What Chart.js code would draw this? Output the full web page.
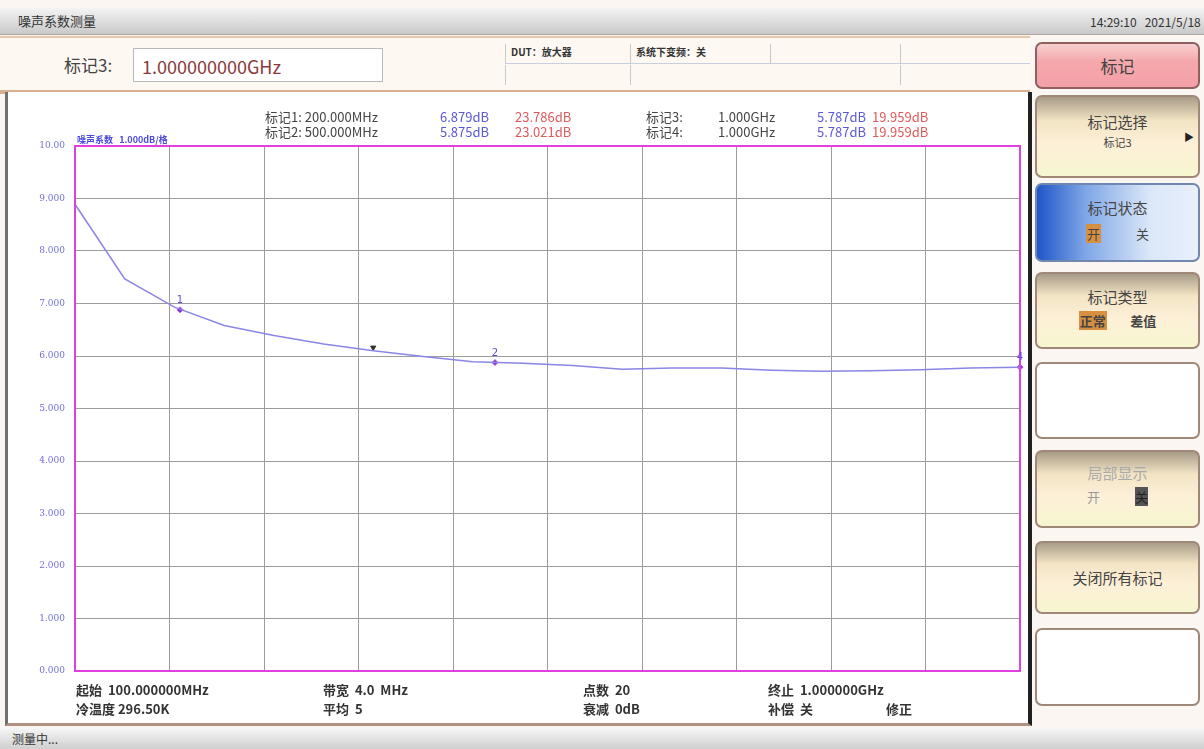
<!DOCTYPE html>
<html>
<head>
<meta charset="utf-8">
<script src="https://cdn.jsdelivr.net/npm/chart.js@4"></script>
<style>
body { margin: 0; width: 1204px; height: 749px; position: relative; overflow: hidden; background: #fbf6f2; font-family: "Noto Sans CJK SC", "Noto Sans", sans-serif; color: #333; }
.abs { position: absolute; white-space: nowrap; }
#titlebar { left: 0; top: 8px; width: 1204px; height: 26px; background: linear-gradient(#f4f4f4, #c9c9c9); border-bottom: 1px solid #b0a8a0; }
#header { left: 0; top: 36px; width: 1030px; height: 52px; background: #fdf8f2; border-top: 2px solid #e8c8a8; border-bottom: 4px solid #d8b090; }
#mkbox { left: 133px; top: 10px; width: 250px; height: 34px; border: 1px solid #b8b8b8; background: #fff; font-size: 18px; color: #8a3a3a; line-height: 34px; padding-left: 8px; box-sizing: border-box; }
.cell { position: absolute; border-left: 1px solid #c8c8c8; font-size: 10px; font-weight: bold; color: #333; padding-left: 5px; box-sizing: border-box; }
#panel { left: 5px; top: 92px; width: 1027px; height: 634px; background: #fff; border-left: 3px solid #707070; border-right: 4px solid #202020; border-bottom: 3px solid #b09080; box-sizing: border-box; }
#chartwrap { left: 8px; top: 92px; width: 1020px; height: 631px; }
.mk { font-size: 13px; color: #444; }
.blue { color: #5a5ad8; }
.red { color: #e05a5a; }
.info { font-size: 13px; font-weight: bold; color: #333; }
.btn { position: absolute; left: 1035px; width: 165px; border: 2px solid #a08878; border-radius: 7px; box-sizing: border-box; text-align: center; font-size: 15px; color: #444; }
.cream { background: linear-gradient(#a89c88 0%, #f2e4c4 30%, #fdf0d8 60%, #f6f6d0 100%); }
.hl { background: #d89040; padding: 0 1px; }
#status { left: 0; top: 728px; width: 1204px; height: 21px; background: linear-gradient(#f6f6f6, #cfcfcf); font-size: 12px; line-height: 21px; padding-left: 12px; box-sizing: border-box; }
</style>
</head>
<body>
<div class="abs" id="titlebar">
  <span class="abs" style="left:18px;top:3px;font-size:13px;">噪声系数测量</span>
  <span class="abs" style="left:1090px;top:5px;font-size:12px;">14:29:10&nbsp;&nbsp;&nbsp;2021/5/18</span>
</div>
<div class="abs" id="header">
  <span class="abs" style="left:64px;top:14px;font-size:17px;color:#444;">标记3:</span>
  <div class="abs" id="mkbox">1.000000000GHz</div>
  <div class="cell" style="left:505px;top:6px;width:125px;height:20px;border-bottom:1px solid #c8d0e0;">DUT：放大器</div>
  <div class="cell" style="left:630px;top:6px;width:140px;height:20px;border-bottom:1px solid #c8d0e0;">系统下变频：关</div>
  <div class="cell" style="left:770px;top:6px;width:130px;height:20px;border-bottom:1px solid #c8d0e0;"></div>
  <div class="cell" style="left:900px;top:6px;width:130px;height:20px;border-bottom:1px solid #c8d0e0;"></div>
  <div class="cell" style="left:505px;top:27px;width:125px;height:20px;"></div>
  <div class="cell" style="left:630px;top:27px;width:270px;height:20px;"></div>
  <div class="cell" style="left:900px;top:27px;width:130px;height:20px;"></div>
</div>
<div class="abs" id="panel"></div>
<div class="abs" id="chartwrap"><canvas id="myChart"></canvas></div>

<span class="abs mk" style="left:265px;top:107px;">标记1: 200.000MHz</span>
<span class="abs mk blue" style="left:440px;top:107px;">6.879dB</span>
<span class="abs mk red" style="left:515px;top:107px;">23.786dB</span>
<span class="abs mk" style="left:265px;top:122px;">标记2: 500.000MHz</span>
<span class="abs mk blue" style="left:440px;top:122px;">5.875dB</span>
<span class="abs mk red" style="left:515px;top:122px;">23.021dB</span>
<span class="abs mk" style="left:646px;top:107px;">标记3:</span>
<span class="abs mk" style="left:718px;top:107px;">1.000GHz</span>
<span class="abs mk blue" style="left:817px;top:107px;">5.787dB</span>
<span class="abs mk red" style="left:872px;top:107px;">19.959dB</span>
<span class="abs mk" style="left:646px;top:122px;">标记4:</span>
<span class="abs mk" style="left:718px;top:122px;">1.000GHz</span>
<span class="abs mk blue" style="left:817px;top:122px;">5.787dB</span>
<span class="abs mk red" style="left:872px;top:122px;">19.959dB</span>
<span class="abs" style="left:77px;top:133px;font-size:9px;font-weight:bold;color:#4a4ae0;">噪声系数&nbsp;&nbsp;&nbsp;1.000dB/格</span>

<span class="abs info" style="left:76px;top:680px;">起始&nbsp;&nbsp;100.000000MHz</span>
<span class="abs info" style="left:76px;top:699px;">冷温度 296.50K</span>
<span class="abs info" style="left:323px;top:680px;">带宽&nbsp;&nbsp;4.0&nbsp;&nbsp;MHz</span>
<span class="abs info" style="left:323px;top:699px;">平均&nbsp;&nbsp;5</span>
<span class="abs info" style="left:583px;top:680px;">点数&nbsp;&nbsp;20</span>
<span class="abs info" style="left:583px;top:699px;">衰减&nbsp;&nbsp;0dB</span>
<span class="abs info" style="left:768px;top:680px;">终止&nbsp;&nbsp;1.000000GHz</span>
<span class="abs info" style="left:768px;top:699px;">补偿&nbsp;&nbsp;关</span>
<span class="abs info" style="left:886px;top:699px;">修正</span>

<div class="btn" style="top:42px;height:47px;line-height:43px;font-size:17px;background:linear-gradient(#f8d0d0,#f5a8ac 40%,#f4a0a8);border-color:#906060;">标记</div>
<div class="btn cream" style="top:95px;height:83px;padding-top:14px;">标记选择<div style="font-size:11px;margin-top:2px;">标记3</div><span class="abs" style="right:4px;top:32px;font-size:10px;color:#222;">▶</span></div>
<div class="btn" style="top:183px;height:79px;padding-top:12px;background:linear-gradient(90deg,#1f55c8 0%,#7fa6e6 30%,#dbe7f8 70%,#e8f0fb 100%);border-color:#7088b0;">标记状态<div style="font-size:13px;margin-top:6px;"><span class="hl">开</span>&nbsp;&nbsp;&nbsp;&nbsp;&nbsp;&nbsp;&nbsp;&nbsp;&nbsp;&nbsp;&nbsp;&nbsp;关</div></div>
<div class="btn cream" style="top:272px;height:77px;padding-top:12px;">标记类型<div style="font-size:13px;margin-top:4px;font-weight:bold;"><span class="hl">正常</span>&nbsp;&nbsp;&nbsp;&nbsp;&nbsp;&nbsp;&nbsp;&nbsp;差值</div></div>
<div class="btn" style="top:362px;height:77px;background:#fff;"></div>
<div class="btn cream" style="top:450px;height:78px;padding-top:10px;color:#aaa;">局部显示<div style="font-size:13px;margin-top:4px;color:#999;">开&nbsp;&nbsp;&nbsp;&nbsp;&nbsp;&nbsp;&nbsp;&nbsp;&nbsp;&nbsp;&nbsp;&nbsp;<span style="background:#555;color:#222;">关</span></div></div>
<div class="btn cream" style="top:541px;height:73px;line-height:69px;font-size:15px;">关闭所有标记</div>
<div class="btn" style="top:628px;height:78px;background:#fff;"></div>

<div class="abs" id="status">测量中...</div>

<script>
// frequency points (MHz) and noise figure (dB)
var freqs = [100, 147.4, 194.7, 242.1, 289.5, 336.8, 384.2, 431.6, 478.9, 526.3,
             573.7, 621.1, 668.4, 715.8, 763.2, 810.5, 857.9, 905.3, 952.6, 1000];
var noiseFig = [8.89, 7.47, 6.93, 6.58, 6.39, 6.23, 6.10, 5.99, 5.89, 5.86,
                5.82, 5.75, 5.77, 5.77, 5.73, 5.71, 5.72, 5.74, 5.77, 5.787];

// markers
var markerFreqs = [200, 500, 1000];
var markerVals = [6.879, 5.875, 5.787];
var markerNames = ['1', '2', '4'];
var pointerFreq = [384];
var pointerVal = [6.16];

var yTicks = ['0.000', '1.000', '2.000', '3.000', '4.000', '5.000', '6.000', '7.000', '8.000', '9.000', '10.00'];

var framePlugin = {
    id: 'frame',
    afterDatasetsDraw: function(chart) {
        var c = chart.ctx, a = chart.chartArea;
        c.save();
        c.strokeStyle = '#e040e0';
        c.lineWidth = 2;
        c.strokeRect(a.left, a.top, a.right - a.left, a.bottom - a.top);
        // marker numbers
        var meta = chart.getDatasetMeta(1);
        c.fillStyle = '#5a4ad8';
        c.font = '10px "DejaVu Sans"';
        c.textAlign = 'center';
        meta.data.forEach(function(p, i) {
            c.fillText(markerNames[i], p.x, p.y - 7);
        });
        c.restore();
    }
};

var ctx = document.getElementById('myChart').getContext('2d');
var myChart = new Chart(ctx, {
    type: 'line',
    data: {
        datasets: [{
            data: freqs.map(function(f, i) { return {x: f, y: noiseFig[i]}; }),
            borderColor: '#8a86e6',
            borderWidth: 1.5,
            pointRadius: 0,
            tension: 0
        }, {
            data: markerFreqs.map(function(f, i) { return {x: f, y: markerVals[i]}; }),
            showLine: false,
            pointStyle: 'rectRot',
            pointRadius: 3,
            backgroundColor: '#7a30c8',
            borderColor: '#c060e0',
            borderWidth: 1,
            clip: false
        }, {
            data: pointerFreq.map(function(f, i) { return {x: f, y: pointerVal[i]}; }),
            showLine: false,
            pointStyle: 'triangle',
            rotation: 180,
            pointRadius: 3,
            backgroundColor: '#333',
            borderColor: '#333',
            borderWidth: 1
        }]
    },
    options: {
        responsive: true,
        maintainAspectRatio: false,
        animation: false,
        layout: { padding: { top: 54, right: 8, bottom: 52, left: 0 } },
        plugins: { legend: { display: false }, tooltip: { enabled: false } },
        scales: {
            x: {
                type: 'linear',
                min: 100,
                max: 1000,
                ticks: { stepSize: 90, display: false },
                grid: { color: '#9c9c9c', lineWidth: 1, drawTicks: false },
                border: { display: false },
                afterFit: function(axis) { axis.height = 0; }
            },
            y: {
                min: 0,
                max: 10,
                ticks: {
                    stepSize: 1,
                    padding: 10,
                    color: '#7070d8',
                    font: { size: 9, family: 'DejaVu Serif' },
                    callback: function(v) { return yTicks[v]; }
                },
                grid: { color: '#9c9c9c', lineWidth: 1, drawTicks: false },
                border: { display: false },
                afterFit: function(axis) { axis.width = 67; }
            }
        }
    },
    plugins: [framePlugin]
});
</script>
</body>
</html>
